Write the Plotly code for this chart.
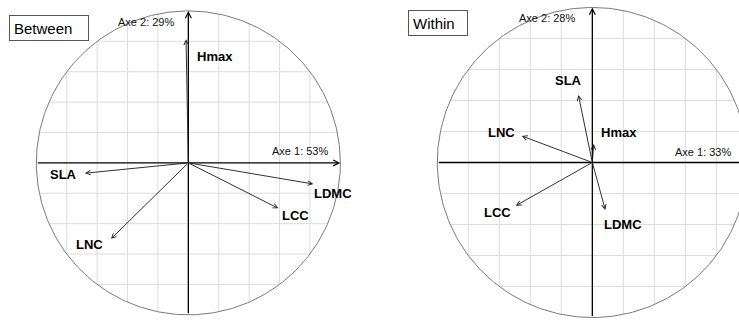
import numpy as np
import plotly.graph_objects as go

# ---------------- data ----------------
variables = ["Hmax", "SLA", "LDMC", "LCC", "LNC"]

# Between: correlation circle coordinates (Axe 1, Axe 2)
between_x = [-0.015, -0.68, 0.822, 0.592, -0.509]
between_y = [0.813, -0.068, -0.139, -0.299, -0.500]
between_lab_x = [0.176, -0.822, 0.954, 0.704, -0.647]
between_lab_y = [0.699, -0.079, -0.200, -0.349, -0.540]
between_axes = ["Axe 1: 53%", "Axe 2: 29%"]

# Within
within_x = [0.009, -0.090, 0.084, -0.494, -0.455]
within_y = [0.119, 0.435, -0.306, -0.279, 0.171]
within_lab_x = [0.170, -0.155, 0.198, -0.610, -0.587]
within_lab_y = [0.192, 0.532, -0.397, -0.321, 0.192]
within_axes = ["Axe 1: 33%", "Axe 2: 28%"]

grid_vals = [-0.8, -0.6, -0.4, -0.2, 0.2, 0.4, 0.6, 0.8]

# ---------------- figure ----------------
W, H = 739, 320
fig = go.Figure()

panels = [
    dict(name="Between", xs="x", ys="y", xa="xaxis", ya="yaxis",
         vx=between_x, vy=between_y, lx=between_lab_x, ly=between_lab_y,
         axes=between_axes,
         xrange=[-1.239, 1.195], yrange=[-1.034, 1.072], dom=[0, 370 / W],
         ax1=(0.932, 0.08), ax2=(-0.08, 0.929),
         box=(9.3, 27.5, 70)),
    dict(name="Within", xs="x2", ys="y2", xa="xaxis2", ya="yaxis2",
         vx=within_x, vy=within_y, lx=within_lab_x, ly=within_lab_y,
         axes=within_axes,
         xrange=[-1.434, 0.946], yrange=[-1.016, 1.048], dom=[370 / W, 1],
         ax1=(0.908, 0.07), ax2=(-0.10, 0.93),
         box=(408, 23, 50)),
]

annotations = []
t = np.linspace(0, 2 * np.pi, 361)
for p in panels:
    # grid clipped to circle
    gx, gy = [], []
    for v in grid_vals:
        h = np.sqrt(1 - v * v)
        gx += [v, v, None]
        gy += [-h, h, None]
        gx += [-h, h, None]
        gy += [v, v, None]
    fig.add_trace(go.Scatter(x=gx, y=gy, mode="lines", xaxis=p["xs"], yaxis=p["ys"],
                             line=dict(color="#dcdcdc", width=1), hoverinfo="skip",
                             showlegend=False))
    # circle
    fig.add_trace(go.Scatter(x=np.cos(t), y=np.sin(t), mode="lines",
                             xaxis=p["xs"], yaxis=p["ys"],
                             line=dict(color="#7a7a7a", width=1), hoverinfo="skip",
                             showlegend=False))
    # main axes with arrows
    for (x0, y0, x1, y1) in [(-1, 0, 1, 0), (0, -1, 0, 1)]:
        annotations.append(dict(x=x1, y=y1, ax=x0, ay=y0, xref=p["xs"], yref=p["ys"],
                                axref=p["xs"], ayref=p["ys"], text="", showarrow=True,
                                arrowhead=5, arrowsize=0.9, arrowwidth=1.3,
                                arrowcolor="#000000", standoff=0, startstandoff=0))
    # variable arrows and labels
    for name, x, y, lx, ly in zip(variables, p["vx"], p["vy"], p["lx"], p["ly"]):
        annotations.append(dict(x=x, y=y, ax=0, ay=0, xref=p["xs"], yref=p["ys"],
                                axref=p["xs"], ayref=p["ys"], text="", showarrow=True,
                                arrowhead=5, arrowsize=1.0, arrowwidth=0.9,
                                arrowcolor="#1a1a1a", standoff=0))
        annotations.append(dict(x=lx, y=ly, xref=p["xs"], yref=p["ys"], text="<b>%s</b>" % name,
                                showarrow=False, xanchor="center", yanchor="middle",
                                font=dict(family="Liberation Sans, Arial", size=13, color="#000")))
    # axis labels
    annotations.append(dict(x=p["ax1"][0], y=p["ax1"][1], xref=p["xs"], yref=p["ys"],
                            text=p["axes"][0], showarrow=False, xanchor="right", yanchor="middle",
                            font=dict(family="Liberation Sans, Arial", size=11, color="#111")))
    annotations.append(dict(x=p["ax2"][0], y=p["ax2"][1], xref=p["xs"], yref=p["ys"],
                            text=p["axes"][1], showarrow=False, xanchor="right", yanchor="middle",
                            font=dict(family="Liberation Sans, Arial", size=11, color="#111")))
    # title box
    bx, by, bw = p["box"]
    annotations.append(dict(x=bx / W, y=1 - by / H, xref="paper", yref="paper",
                            text=p["name"], showarrow=False, xanchor="left", yanchor="middle",
                            align="left", width=bw, height=16, borderpad=4,
                            bordercolor="#555", borderwidth=1, bgcolor="white",
                            font=dict(family="Liberation Sans, Arial", size=15, color="#000")))

    ax_common = dict(showgrid=False, zeroline=False, showticklabels=False, ticks="",
                     showline=False, fixedrange=True)
    fig.layout[p["xa"]] = dict(domain=p["dom"], range=p["xrange"], **ax_common)
    fig.layout[p["ya"]] = dict(domain=[0, 1], range=p["yrange"], **ax_common)

fig.layout.xaxis2.anchor = "y2"
fig.layout.yaxis2.anchor = "x2"

fig.update_layout(width=W, height=H, margin=dict(l=0, r=0, t=0, b=0),
                  paper_bgcolor="white", plot_bgcolor="white",
                  annotations=annotations, showlegend=False)

fig.write_html("out.html", config={"displayModeBar": False},
               post_script="document.body.style.margin='0';document.body.style.overflow='hidden';")
